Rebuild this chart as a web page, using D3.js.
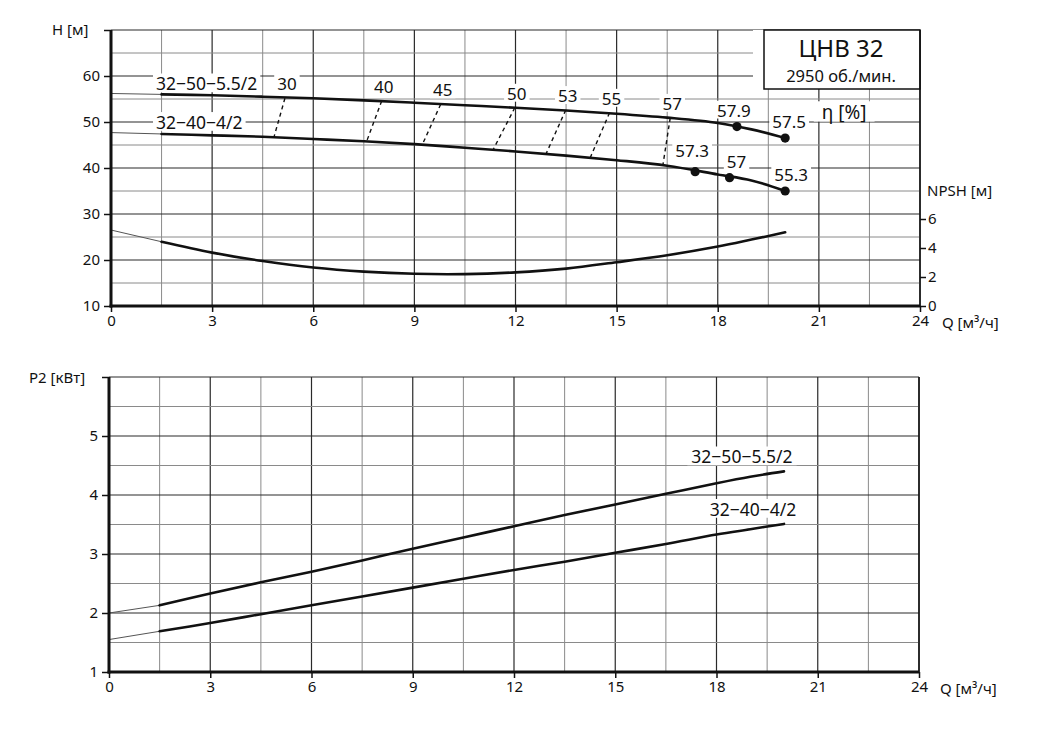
<!DOCTYPE html>
<html>
<head>
<meta charset="utf-8">
<script src="https://cdn.jsdelivr.net/npm/d3@7"></script>
<style>
	body { margin: 0; background: #fff; }
	svg { display: block; font-family: "Noto Sans", sans-serif; }
</style>
</head>
<body>
<div id="chart"></div>
<script>

// ---- data ----
const pumpNames = ["32−50−5.5/2", "32−40−4/2"];
const flow = [0, 1.5, 3, 4.5, 6, 7.5, 9, 10.5, 12, 13.5, 15, 16.5, 18, 19, 20];
const head50 = [56.2, 56.0, 55.8, 55.5, 55.15, 54.7, 54.2, 53.65, 53.1, 52.5, 51.8, 50.95, 49.8, 48.4, 46.5];
const head40 = [47.7, 47.4, 47.1, 46.8, 46.3, 45.8, 45.2, 44.4, 43.6, 42.7, 41.7, 40.5, 38.6, 37.3, 35.0];
const npsh = [5.24, 4.43, 3.68, 3.1, 2.65, 2.37, 2.22, 2.2, 2.32, 2.58, 3.02, 3.5, 4.1, 4.58, 5.08];
const power50 = [2.0, 2.13, 2.33, 2.52, 2.70, 2.89, 3.09, 3.28, 3.47, 3.66, 3.84, 4.02, 4.20, 4.31, 4.40];
const power40 = [1.55, 1.69, 1.83, 1.98, 2.13, 2.28, 2.43, 2.58, 2.73, 2.87, 3.02, 3.17, 3.33, 3.42, 3.51];

// efficiency iso-lines between the two head curves
const etaLevels = [30, 40, 45, 50, 53, 55, 57];
const etaQTop = [5.16, 8.03, 9.78, 11.98, 13.49, 14.79, 16.59];
const etaHTop = [55.15, 54.57, 53.85, 53.1, 52.6, 52.0, 50.9];
const etaQBottom = [4.83, 7.58, 9.23, 11.33, 12.89, 14.22, 16.37];
const etaHBottom = [46.6, 45.7, 45.0, 43.9, 42.8, 42.3, 40.5];

// marked efficiency points
const dotQ50 = [18.57, 20];
const dotH50 = [49.0, 46.5];
const dotEta50 = ["57.9", "57.5"];
const dotQ40 = [17.33, 18.35, 20];
const dotH40 = [39.2, 37.9, 35.0];
const dotEta40 = ["57.3", "57", "55.3"];

const qTicks = [0, 3, 6, 9, 12, 15, 18, 21, 24];
const hTicks = [10, 20, 30, 40, 50, 60, 70];
const npshTicks = [0, 2, 4, 6];
const powerTicks = [1, 2, 3, 4, 5, 6];

const titleText = "ЦНВ 32";
const speedText = "2950 об./мин.";

// ---- layout ----
const WIDTH = 1041;
const HEIGHT = 739;
const MAJOR = "#2a2a2a";
const MINOR = "#8a8a8a";
const INK = "#111";

const svg = d3.select("#chart").append("svg")
	.attr("width", WIDTH)
	.attr("height", HEIGHT);

const gGrid = svg.append("g");
const gBg = svg.append("g");
const gCurves = svg.append("g");
const gText = svg.append("g");
const gAxes = svg.append("g");

const xTop = d3.scaleLinear().domain([0, 24]).range([111, 920]);
const yHead = d3.scaleLinear().domain([10, 70]).range([306, 30]);
const yNpsh = d3.scaleLinear().domain([0, 6]).range([306, 219]);
const xBot = d3.scaleLinear().domain([0, 24]).range([109, 919]);
const yPower = d3.scaleLinear().domain([1, 6]).range([672, 377]);

// text with a white patch behind it, so the grid is cut around it
function label (txt, x, y, size, anchor, pad) {
	const t = gText.append("text")
		.attr("x", x)
		.attr("y", y)
		.attr("font-size", size)
		.attr("text-anchor", anchor || "middle")
		.attr("fill", INK)
		.text(txt);
	const b = t.node().getBBox();
	const p = pad == null ? 3 : pad;
	gBg.append("rect")
		.attr("x", b.x - p)
		.attr("y", b.y + size * 0.12)
		.attr("width", b.width + 2 * p)
		.attr("height", b.height - size * 0.3)
		.attr("fill", "#fff");
	return t;
}

function grid (x, y, yStep, yMajor) {
	const [x0, x1] = x.domain();
	const [y0, y1] = y.domain();
	d3.range(x0, x1 + 0.01, 1.5).forEach(v => {
		gGrid.append("line")
			.attr("x1", x(v)).attr("x2", x(v))
			.attr("y1", y(y0)).attr("y2", y(y1))
			.attr("stroke", v % 3 === 0 ? MAJOR : MINOR)
			.attr("stroke-width", v % 3 === 0 ? 1.2 : 1);
	});
	d3.range(y0, y1 + 0.001, yStep).forEach(v => {
		const major = Math.abs(v / yMajor - Math.round(v / yMajor)) < 1e-6;
		gGrid.append("line")
			.attr("x1", x(x0)).attr("x2", x(x1))
			.attr("y1", y(v)).attr("y2", y(v))
			.attr("stroke", major ? MAJOR : MINOR)
			.attr("stroke-width", major ? 1.2 : 1);
	});
}

function curve (x, y, values) {
	const pts = flow.map((q, i) => [x(q), y(values[i])]);
	// first stretch (0 .. 1.5) is drawn thin
	gCurves.append("path")
		.attr("d", d3.line()(pts.slice(0, 2)))
		.attr("fill", "none")
		.attr("stroke", "#555")
		.attr("stroke-width", 1);
	gCurves.append("path")
		.attr("d", d3.line().curve(d3.curveCatmullRom.alpha(0.5))(pts.slice(1)))
		.attr("fill", "none")
		.attr("stroke", INK)
		.attr("stroke-width", 2.6)
		.attr("stroke-linecap", "round");
}

function styleAxis (g, size) {
	g.select(".domain").remove();
	g.selectAll(".tick line").attr("stroke", INK).attr("stroke-width", 1.5);
	g.selectAll(".tick text")
		.attr("font-size", size)
		.attr("fill", INK)
		.attr("font-family", "\"Noto Sans\", sans-serif");
}

function frame (x, y, rightLine) {
	const [x0, x1] = x.range();
	const [yb, yt] = y.range();
	gAxes.append("line")
		.attr("x1", x0).attr("x2", x0)
		.attr("y1", yt).attr("y2", yb + 1.5)
		.attr("stroke", INK).attr("stroke-width", 3);
	gAxes.append("line")
		.attr("x1", x0 - 1.5).attr("x2", x1)
		.attr("y1", yb).attr("y2", yb)
		.attr("stroke", INK).attr("stroke-width", 3);
	gAxes.append("line")
		.attr("x1", x1).attr("x2", x1)
		.attr("y1", yt).attr("y2", yb)
		.attr("stroke", INK).attr("stroke-width", rightLine);
}

// ================= top chart : H and NPSH =================
grid(xTop, yHead, 5, 10);

// title box
const boxRight = xTop(24);
gBg.append("rect")
	.attr("x", boxRight - 167).attr("y", yHead(70))
	.attr("width", 167).attr("height", 59)
	.attr("fill", "#fff");
gText.append("rect")
	.attr("x", boxRight - 156).attr("y", yHead(70))
	.attr("width", 156).attr("height", 59)
	.attr("fill", "#fff")
	.attr("stroke", INK)
	.attr("stroke-width", 1.5);
gText.append("text")
	.attr("x", boxRight - 79).attr("y", yHead(70) + 27)
	.attr("text-anchor", "middle")
	.attr("font-size", 24)
	.attr("fill", INK)
	.text(titleText);
gText.append("text")
	.attr("x", boxRight - 79).attr("y", yHead(70) + 52)
	.attr("text-anchor", "middle")
	.attr("font-size", 16.5)
	.attr("fill", INK)
	.text(speedText);

label("η [%]", xTop(20) + 59, yHead(50) - 3, 19, "middle", 8);

curve(xTop, yHead, head50);
curve(xTop, yHead, head40);
curve(xTop, yNpsh, npsh);

label(pumpNames[0], xTop(0) + 45, yHead(head50[1]) - 4, 17.5, "start", 3);
label(pumpNames[1], xTop(0) + 45, yHead(head40[1]) - 5, 17.5, "start", 3);

// efficiency iso-lines
etaLevels.forEach((eta, i) => {
	const xa = xTop(etaQTop[i]);
	const ya = yHead(etaHTop[i]);
	gCurves.append("line")
		.attr("x1", xa).attr("y1", ya)
		.attr("x2", xTop(etaQBottom[i])).attr("y2", yHead(etaHBottom[i]))
		.attr("stroke", INK)
		.attr("stroke-width", 1.4)
		.attr("stroke-dasharray", "4,3.5");
	label(eta, xa + 2, ya - 8, 17, "middle", 3);
});

const dotOffsets50 = [[-3, -10], [4, -10]];
const dotOffsets40 = [[-3, -15], [7, -10], [6, -10]];

function dots (qs, hs, etas, offsets) {
	qs.forEach((q, i) => {
		const cx = xTop(q);
		const cy = yHead(hs[i]);
		gCurves.append("circle")
			.attr("cx", cx).attr("cy", cy)
			.attr("r", 4.6)
			.attr("fill", INK);
		label(etas[i], cx + offsets[i][0], cy + offsets[i][1], 17, "middle", 3);
	});
}
dots(dotQ50, dotH50, dotEta50, dotOffsets50);
dots(dotQ40, dotH40, dotEta40, dotOffsets40);

frame(xTop, yHead, 1.5);

const axTopX = gAxes.append("g")
	.attr("transform", `translate(0,${yHead(10)})`)
	.call(d3.axisBottom(xTop).tickValues(qTicks).tickSize(6).tickPadding(3));
styleAxis(axTopX, 15);

const axTopY = gAxes.append("g")
	.attr("transform", `translate(${xTop(0)},0)`)
	.call(d3.axisLeft(yHead).tickValues(hTicks).tickSize(7).tickPadding(4)
		.tickFormat(d => d === 70 ? "" : d));
styleAxis(axTopY, 15);

const axNpsh = gAxes.append("g")
	.attr("transform", `translate(${xTop(24)},0)`)
	.call(d3.axisRight(yNpsh).tickValues(npshTicks).tickSize(6).tickPadding(2)
		.tickFormat(d3.format("d")));
styleAxis(axNpsh, 15);

gText.append("text")
	.attr("x", xTop(0) - 59).attr("y", yHead(70) + 5)
	.attr("font-size", 15).attr("fill", INK)
	.text("H [м]");
gText.append("text")
	.attr("x", xTop(24) + 7).attr("y", yNpsh(6) - 23)
	.attr("font-size", 15).attr("fill", INK)
	.text("NPSH [м]");
gText.append("text")
	.attr("x", xTop(24) + 22).attr("y", yHead(10) + 22)
	.attr("font-size", 15).attr("fill", INK)
	.text("Q [м³/ч]");

// ================= bottom chart : P2 =================
grid(xBot, yPower, 0.5, 1);

curve(xBot, yPower, power50);
curve(xBot, yPower, power40);

label(pumpNames[0], xBot(20) - 42, yPower(power50[power50.length - 1]) - 8, 17.5, "middle", 4);
label(pumpNames[1], xBot(20) - 31, yPower(power40[power40.length - 1]) - 8, 17.5, "middle", 4);

frame(xBot, yPower, 1.5);

const axBotX = gAxes.append("g")
	.attr("transform", `translate(0,${yPower(1)})`)
	.call(d3.axisBottom(xBot).tickValues(qTicks).tickSize(6).tickPadding(3));
styleAxis(axBotX, 15);

const axBotY = gAxes.append("g")
	.attr("transform", `translate(${xBot(0)},0)`)
	.call(d3.axisLeft(yPower).tickValues(powerTicks).tickSize(7).tickPadding(4)
		.tickFormat(d => d === 6 ? "" : d));
styleAxis(axBotY, 15);

gText.append("text")
	.attr("x", xBot(0) - 80).attr("y", yPower(6) + 6)
	.attr("font-size", 15).attr("fill", INK)
	.text("P2 [кВт]");
gText.append("text")
	.attr("x", xBot(24) + 21).attr("y", yPower(1) + 22)
	.attr("font-size", 15).attr("fill", INK)
	.text("Q [м³/ч]");

</script>
</body>
</html>
